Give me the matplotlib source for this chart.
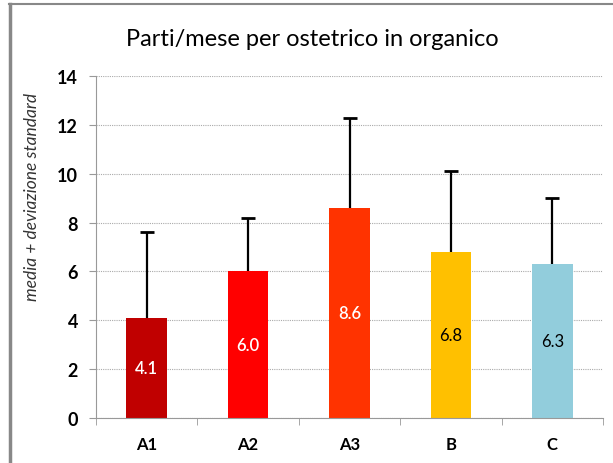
import numpy as np
import matplotlib.pyplot as plt
from matplotlib.lines import Line2D

# Data
categories = ['A1', 'A2', 'A3', 'B', 'C']
means = [4.1, 6.0, 8.6, 6.8, 6.3]
std_devs = [3.5, 2.2, 3.7, 3.3, 2.7]
colors = ['#C00000', '#FF0000', '#FF3300', '#FFC000', '#92CDDC']
label_colors = ['white', 'white', 'white', 'black', 'black']

plt.rcParams['font.family'] = ['Lato', 'DejaVu Sans']

fig = plt.figure(figsize=(6.13, 4.64), dpi=100)
ax = fig.add_axes([96 / 613, 45 / 464, 507 / 613, 342 / 464])

x = np.arange(len(categories))
tops = np.array(means) + np.array(std_devs)
ax.bar(x, means, width=0.4, color=colors, zorder=2)
# upper-only error bars
ax.vlines(x, means, tops, color='black', linewidth=1.6, zorder=3)
ax.scatter(x, tops, marker='_', s=90, color='black', linewidths=2, zorder=3)

# Value labels in the middle of each bar
for xi, m, c in zip(x, means, label_colors):
    ax.text(xi, m / 2, f'{m:.1f}', ha='center', va='center', color=c,
            fontsize=12, fontweight='semibold' if c == 'white' else 'normal', zorder=4)

ax.set_xlim(-0.5, len(categories) - 0.5)
ax.set_ylim(0, 14)
ax.set_yticks(np.arange(0, 15, 2))
ax.set_yticklabels([str(v) for v in range(0, 15, 2)], fontsize=13, fontweight='bold')
ax.set_xticks(x)
ax.set_xticklabels(categories, fontsize=12, fontweight='bold')
ax.set_xticks(np.arange(-0.5, len(categories)), minor=True)
ax.tick_params(axis='x', which='major', length=0, pad=13)
ax.tick_params(axis='x', which='minor', length=5, color='#999999')
ax.tick_params(axis='y', length=5, color='#999999', pad=8)

ax.grid(axis='y', linestyle=(0, (1, 1)), color='#AAAAAA', linewidth=0.8, zorder=0)
ax.set_axisbelow(True)
for side in ['top', 'right']:
    ax.spines[side].set_visible(False)
for side in ['left', 'bottom']:
    ax.spines[side].set_color('#999999')

ax.set_ylabel('media + deviazione standard', fontsize=12.5, fontstyle='italic',
              color='#333333')
ax.yaxis.set_label_coords(-0.11, 0.65)

fig.text(312 / 613, 1 - 40 / 464, 'Parti/mese per ostetrico in organico',
         ha='center', va='center', fontsize=17)

# Slide frame on left and top
fig.add_artist(Line2D([10 / 613, 10 / 613], [0, 1 - 5 / 464],
                      transform=fig.transFigure, color='#888888', linewidth=2.5))
fig.add_artist(Line2D([9 / 613, 1], [1 - 5 / 464, 1 - 5 / 464],
                      transform=fig.transFigure, color='#888888', linewidth=1.5))

fig.savefig('out.png', dpi=100)
